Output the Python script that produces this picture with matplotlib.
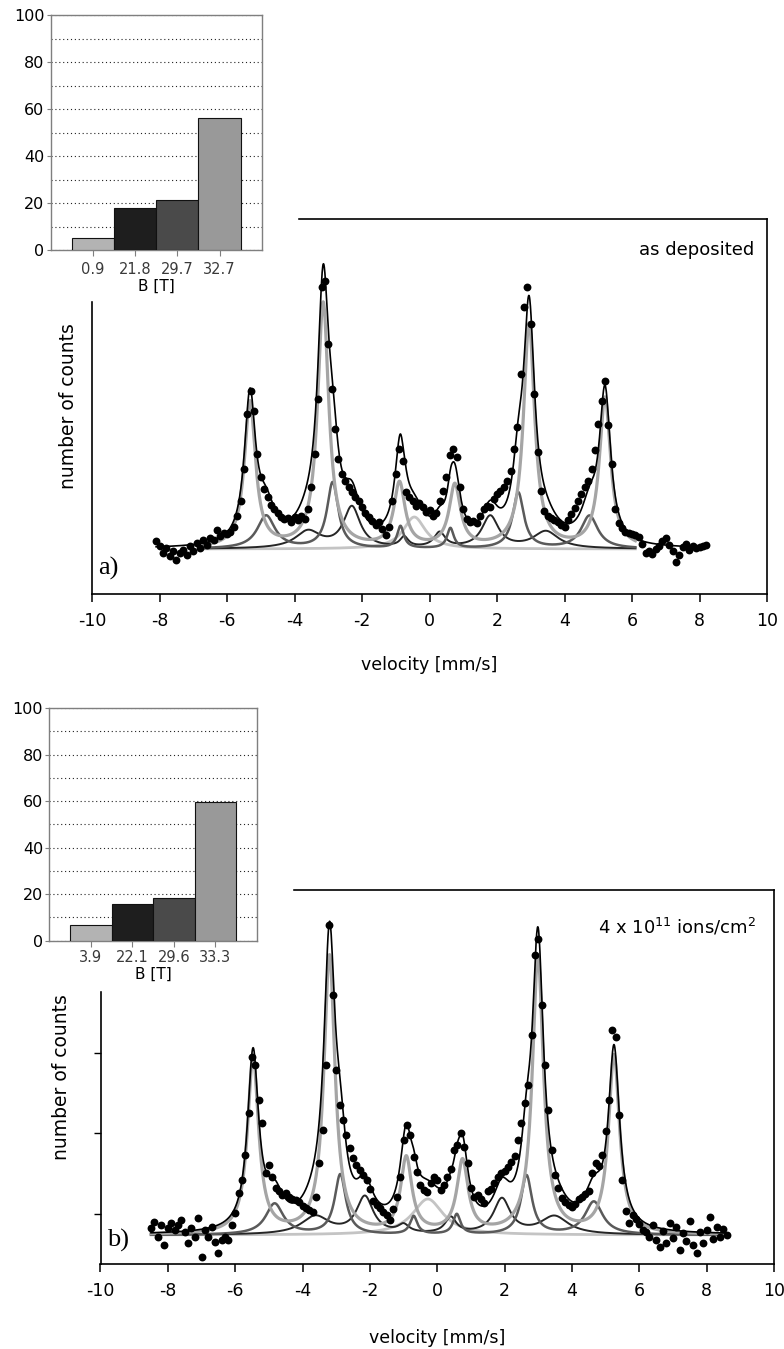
import numpy as np
import matplotlib.pyplot as plt
from matplotlib.patches import Rectangle

plt.rcParams['font.family'] = 'DejaVu Sans'
plt.rcParams['axes.unicode_minus'] = False

# --- inset histograms (share of each hyperfine field, %)
field_a = ['0.9', '21.8', '29.7', '32.7']
share_a = [5.0, 18.0, 21.3, 56.2]
field_b = ['3.9', '22.1', '29.6', '33.3']
share_b = [6.6, 15.8, 18.2, 59.5]
bar_colors = ['#b3b3b3', '#1e1e1e', '#4a4a4a', '#999999']

# --- spectrum a) as deposited: measured points
vel_a = [-8.1, -8.0, -7.9, -7.8, -7.7, -7.6, -7.5, -7.4, -7.3, -7.2,
         -7.1, -7.0, -6.9, -6.8, -6.7, -6.6, -6.5, -6.4, -6.3, -6.2,
         -6.1, -6.0, -5.9, -5.8, -5.7, -5.6, -5.5, -5.4, -5.3, -5.2,
         -5.1, -5.0, -4.9, -4.8, -4.7, -4.6, -4.5, -4.4, -4.3, -4.2,
         -4.1, -4.0, -3.9, -3.8, -3.7, -3.6, -3.5, -3.4, -3.3, -3.2,
         -3.1, -3.0, -2.9, -2.8, -2.7, -2.6, -2.5, -2.4, -2.3, -2.2,
         -2.1, -2.0, -1.9, -1.8, -1.7, -1.6, -1.5, -1.4, -1.3, -1.2,
         -1.1, -1.0, -0.9, -0.8, -0.7, -0.6, -0.5, -0.4, -0.3, -0.2,
         -0.1, 0.0, 0.1, 0.2, 0.3, 0.4, 0.5, 0.6, 0.7, 0.8,
         0.9, 1.0, 1.1, 1.2, 1.3, 1.4, 1.5, 1.6, 1.7, 1.8,
         1.9, 2.0, 2.1, 2.2, 2.3, 2.4, 2.5, 2.6, 2.7, 2.8,
         2.9, 3.0, 3.1, 3.2, 3.3, 3.4, 3.5, 3.6, 3.7, 3.8,
         3.9, 4.0, 4.1, 4.2, 4.3, 4.4, 4.5, 4.6, 4.7, 4.8,
         4.9, 5.0, 5.1, 5.2, 5.3, 5.4, 5.5, 5.6, 5.7, 5.8,
         5.9, 6.0, 6.1, 6.2, 6.3, 6.4, 6.5, 6.6, 6.7, 6.8,
         6.9, 7.0, 7.1, 7.2, 7.3, 7.4, 7.5, 7.6, 7.7, 7.8,
         7.9, 8.0, 8.1, 8.2]
cnt_a = [8, 3, -4, 1, -7, -2, -11, -4, -1, -6,
         3, -2, 6, 1, 9, 4, 11, 9, 19, 13,
         16, 15, 17, 22, 33, 48, 80, 135, 158, 138,
         95, 72, 60, 52, 44, 40, 36, 32, 30, 31,
         27, 32, 29, 33, 30, 40, 62, 95, 150, 262,
         268, 205, 160, 120, 90, 75, 68, 62, 57, 52,
         48, 42, 36, 32, 28, 24, 27, 20, 14, 22,
         48, 75, 100, 88, 57, 52, 48, 43, 46, 42,
         37, 39, 33, 36, 48, 58, 72, 94, 100, 92,
         62, 40, 30, 27, 28, 26, 33, 40, 43, 42,
         50, 55, 58, 62, 68, 78, 100, 122, 175, 242,
         262, 225, 155, 97, 58, 38, 33, 31, 29, 27,
         24, 22, 29, 35, 41, 48, 55, 62, 68, 80,
         99, 125, 148, 168, 124, 85, 40, 26, 21, 17,
         16, 15, 14, 12, 5, -4, -2, -5, 0, 3,
         8, 11, 4, -2, -13, -6, 2, 5, -1, 3,
         1, 2, 3, 4]

# fitted sub-spectra a): line positions, heights, half widths
main_pos_a = [-5.32, -3.15, -0.89, 0.75, 2.95, 5.20]
main_h_a = [146, 245, 64, 62, 224, 150]
main_w_a = [0.2, 0.2, 0.2, 0.2, 0.2, 0.2]
mid_pos_a = [-4.84, -2.87, -0.86, 0.62, 2.63, 4.74]
mid_h_a = [33, 66, 22, 20, 56, 33]
mid_w_a = [0.32, 0.2, 0.12, 0.12, 0.2, 0.3]
low_pos_a = [-3.6, -2.3, -0.75, 0.3, 1.8, 3.45]
low_h_a = [17, 41, 10, 15, 32, 17]
low_w_a = [0.45, 0.3, 0.15, 0.2, 0.3, 0.45]
para_pos_a = [-0.45]
para_h_a = [32]
para_w_a = [0.4]

# --- spectrum b) 4 x 10^11 ions/cm^2: measured points
vel_b = [-8.5, -8.4, -8.3, -8.2, -8.1, -8.0, -7.9, -7.8, -7.7, -7.6,
         -7.5, -7.4, -7.3, -7.2, -7.1, -7.0, -6.9, -6.8, -6.7, -6.6,
         -6.5, -6.4, -6.3, -6.2, -6.1, -6.0, -5.9, -5.8, -5.7, -5.6,
         -5.5, -5.4, -5.3, -5.2, -5.1, -5.0, -4.9, -4.8, -4.7, -4.6,
         -4.5, -4.4, -4.3, -4.2, -4.1, -4.0, -3.9, -3.8, -3.7, -3.6,
         -3.5, -3.4, -3.3, -3.2, -3.1, -3.0, -2.9, -2.8, -2.7, -2.6,
         -2.5, -2.4, -2.3, -2.2, -2.1, -2.0, -1.9, -1.8, -1.7, -1.6,
         -1.5, -1.4, -1.3, -1.2, -1.1, -1.0, -0.9, -0.8, -0.7, -0.6,
         -0.5, -0.4, -0.3, -0.2, -0.1, 0.0, 0.1, 0.2, 0.3, 0.4,
         0.5, 0.6, 0.7, 0.8, 0.9, 1.0, 1.1, 1.2, 1.3, 1.4,
         1.5, 1.6, 1.7, 1.8, 1.9, 2.0, 2.1, 2.2, 2.3, 2.4,
         2.5, 2.6, 2.7, 2.8, 2.9, 3.0, 3.1, 3.2, 3.3, 3.4,
         3.5, 3.6, 3.7, 3.8, 3.9, 4.0, 4.1, 4.2, 4.3, 4.4,
         4.5, 4.6, 4.7, 4.8, 4.9, 5.0, 5.1, 5.2, 5.3, 5.4,
         5.5, 5.6, 5.7, 5.8, 5.9, 6.0, 6.1, 6.2, 6.3, 6.4,
         6.5, 6.6, 6.7, 6.8, 6.9, 7.0, 7.1, 7.2, 7.3, 7.4,
         7.5, 7.6, 7.7, 7.8, 7.9, 8.0, 8.1, 8.2, 8.3, 8.4,
         8.5, 8.6]
cnt_b = [7, 13, -2, 10, -10, 7, 12, 5, 10, 15,
         3, -8, 7, -2, 17, -22, 5, -2, 8, -7,
         -18, -5, -2, -5, 10, 22, 42, 55, 80, 122,
         178, 170, 135, 112, 62, 70, 58, 47, 44, 40,
         42, 38, 36, 35, 33, 29, 27, 25, 23, 38,
         72, 105, 170, 310, 240, 165, 130, 115, 100, 87,
         77, 70, 65, 60, 55, 46, 34, 30, 27, 23,
         20, 15, 26, 38, 58, 95, 110, 100, 78, 63,
         50, 45, 43, 52, 58, 55, 45, 50, 58, 66,
         85, 90, 102, 88, 72, 47, 38, 40, 36, 32,
         44, 46, 52, 58, 62, 64, 68, 73, 79, 95,
         112, 132, 150, 200, 280, 296, 230, 170, 125, 85,
         60, 47, 37, 33, 30, 28, 31, 36, 38, 41,
         44, 62, 72, 69, 80, 104, 135, 205, 198, 120,
         55, 24, 12, 20, 16, 11, 5, 3, -2, 10,
         -5, -12, 4, -8, 12, -3, 8, -15, 2, -6,
         14, -10, -18, 3, -8, 5, 18, -4, 8, -2,
         6, 0]

# fitted sub-spectra b)
main_pos_b = [-5.47, -3.20, -0.92, 0.75, 2.99, 5.25]
main_h_b = [176, 278, 75, 72, 276, 178]
main_w_b = [0.2, 0.2, 0.2, 0.2, 0.2, 0.2]
mid_pos_b = [-4.83, -2.88, -0.70, 0.58, 2.65, 4.65]
mid_h_b = [31, 60, 18, 20, 59, 33]
mid_w_b = [0.32, 0.2, 0.13, 0.13, 0.2, 0.32]
low_pos_b = [-3.62, -2.15, -1.0, 0.4, 1.92, 3.48]
low_h_b = [18, 37, 8, 16, 35, 18]
low_w_b = [0.5, 0.3, 0.2, 0.2, 0.3, 0.5]
para_pos_b = [-0.28]
para_h_b = [36]
para_w_b = [0.55]


def lines(v, pos, h, w):
    # sum of lorentzian lines
    out = np.zeros_like(v)
    for p, a, g in zip(pos, h, w):
        out += a / (1 + ((v - p) / g) ** 2)
    return out


fig = plt.figure(figsize=(7.84, 13.49), dpi=100)
W, H = 784.0, 1349.0


def box(left, top, right, bottom):
    return [left / W, 1 - bottom / H, (right - left) / W, (bottom - top) / H]


def spectrum(ax, vel, cnt, comps, span, full):
    v = np.linspace(span[0], span[1], 1500)
    vf = np.linspace(full[0], full[1], 1800)
    main, mid, low, para = comps
    ax.plot(v, lines(v, *para), color='#c4c4c4', lw=2.0, zorder=2)
    ax.plot(v, lines(v, *low), color='#262626', lw=1.4, zorder=2)
    ax.plot(v, lines(v, *mid), color='#5a5a5a', lw=1.8, zorder=2)
    ax.plot(v, lines(v, *main), color='#a5a5a5', lw=2.3, zorder=3)
    tot = sum(lines(vf, *c) for c in comps)
    ax.plot(vf, tot, color='black', lw=1.2, zorder=4)
    ax.scatter(vel, cnt, s=32, color='black', zorder=5, linewidths=0)
    ax.set_xlim(-10, 10)
    ax.set_xticks(range(-10, 11, 2))
    ax.tick_params(axis='x', direction='out', length=6, width=1.1,
                   labelsize=12.5, pad=7)
    for s in ax.spines.values():
        s.set_linewidth(1.2)


# panel a
ax_a = fig.add_axes(box(92, 219, 767, 594), zorder=0)
spectrum(ax_a, vel_a, cnt_a,
         [(main_pos_a, main_h_a, main_w_a), (mid_pos_a, mid_h_a, mid_w_a),
          (low_pos_a, low_h_a, low_w_a), (para_pos_a, para_h_a, para_w_a)],
         (-6.7, 6.1), (-8.1, 8.2))
ax_a.set_ylim(-45, 330)
ax_a.set_yticks([])
ax_a.set_xlabel('velocity [mm/s]', fontsize=12.5, labelpad=19)
ax_a.set_ylabel('number of counts', fontsize=13.5, labelpad=10)
ax_a.text(0.981, 0.917, 'as deposited', transform=ax_a.transAxes,
          ha='right', va='center', fontsize=13)
ax_a.text(0.009, 0.069, 'a)', transform=ax_a.transAxes, ha='left',
          va='center', fontsize=19, family='Liberation Serif')

# panel b
ax_b = fig.add_axes(box(100.5, 890, 774, 1264), zorder=0)
spectrum(ax_b, vel_b, cnt_b,
         [(main_pos_b, main_h_b, main_w_b), (mid_pos_b, mid_h_b, mid_w_b),
          (low_pos_b, low_h_b, low_w_b), (para_pos_b, para_h_b, para_w_b)],
         (-8.5, 8.6), (-8.5, 8.6))
ax_b.set_ylim(-29, 345)
ax_b.set_yticks([20.7, 101.7, 182.3, 263.5])
ax_b.tick_params(axis='y', direction='out', length=5, width=1.0,
                 labelleft=False)
ax_b.set_xlabel('velocity [mm/s]', fontsize=12.5, labelpad=21)
ax_b.set_ylabel('number of counts', fontsize=13.5, labelpad=16)
ax_b.text(0.973, 0.90, r'4 x 10$^{11}$ ions/cm$^{2}$',
          transform=ax_b.transAxes, ha='right', va='center', fontsize=13)
ax_b.text(0.01, 0.062, 'b)', transform=ax_b.transAxes, ha='left',
          va='center', fontsize=19, family='Liberation Serif')

# white areas behind the insets
fig.add_artist(Rectangle((0, 1 - 300 / H), 297 / W, 300 / H,
                         transform=fig.transFigure, color='white', zorder=1))
fig.add_artist(Rectangle((0, 1 - 990 / H), 292 / W, 300 / H,
                         transform=fig.transFigure, color='white', zorder=1))


def inset(rect, labels, share, pad):
    ax = fig.add_axes(rect, zorder=2)
    ax.bar([1, 2, 3, 4], share, width=1.0, color=bar_colors,
           edgecolor='#111111', linewidth=0.8, zorder=3)
    ax.set_xlim(0, 5)
    ax.set_ylim(0, 100)
    ax.set_yticks(range(0, 101, 20))
    ax.set_yticks(range(10, 100, 20), minor=True)
    ax.grid(axis='y', which='both', linestyle=(0, (1, 2.5)), color='#222222',
            lw=0.8, zorder=1)
    ax.set_xticks([1, 2, 3, 4])
    ax.set_xticklabels(labels)
    ax.tick_params(axis='y', which='major', length=3, color='#7f7f7f',
                   labelsize=11.5, pad=1.5)
    ax.tick_params(axis='y', which='minor', length=0)
    ax.tick_params(axis='x', length=4, color='#7f7f7f', labelsize=10.5,
                   labelcolor='#3a3a3a', pad=pad)
    for s in ax.spines.values():
        s.set_color('#7f7f7f')
        s.set_linewidth(1.0)
    ax.set_xlabel('B [T]', fontsize=11, labelpad=1)
    return ax


inset(box(50.7, 15, 261.7, 250), field_a, share_a, 5)
inset(box(49.3, 708, 257, 940.7), field_b, share_b, 3)

fig.savefig('out.png', dpi=100)
